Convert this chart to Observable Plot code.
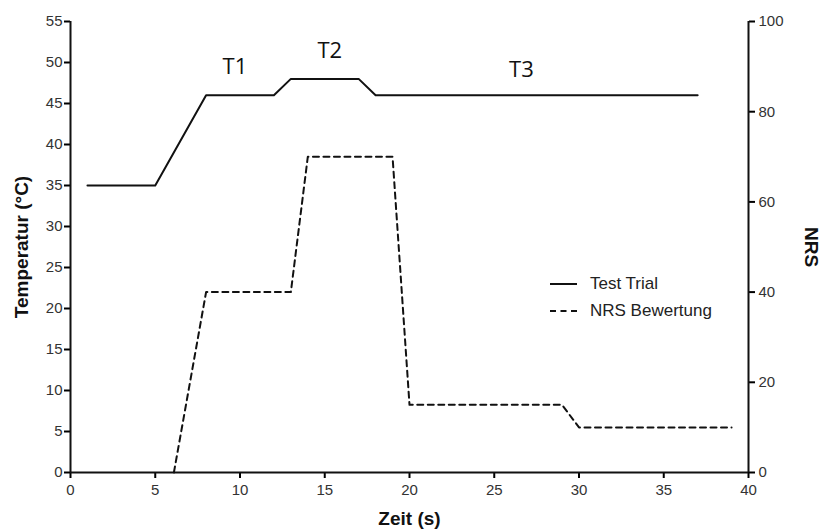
<!DOCTYPE html>
<html>
<head>
<meta charset="utf-8">
<script src="https://cdn.jsdelivr.net/npm/d3@7"></script>
<script src="https://cdn.jsdelivr.net/npm/@observablehq/plot@0.6"></script>
<style>
  body { margin: 0; background: #fff; }
  #wrap { position: relative; width: 822px; height: 530px; }
  #legend { position: absolute; left: 550px; top: 270px; font-family: "Liberation Sans", Arial, sans-serif; font-size: 17px; color: #222; }
  #legend .row { display: flex; align-items: center; height: 27px; }
  #legend svg { margin-right: 13px; }
</style>
</head>
<body>
<div id="wrap"></div>
<script>
// Data
const timeTemp = [1, 5, 8, 12, 13, 17, 18, 37];
const temp     = [35, 35, 46, 46, 48, 48, 46, 46];
const timeNrs  = [6.1, 8, 13, 14, 19, 20, 29, 30, 39];
const nrs      = [0, 40, 40, 70, 70, 15, 15, 10, 10];
const xTicks   = [0, 5, 10, 15, 20, 25, 30, 35, 40];
const yTicks   = [0, 5, 10, 15, 20, 25, 30, 35, 40, 45, 50, 55];
const nrsTicks = [0, 20, 40, 60, 80, 100];
const phaseLabels = ["T1", "T2", "T3"];
const phaseX = [9.7, 15.3, 26.6];
const phaseY = [49.4, 51.4, 49.1];

const tempMax = 55, nrsMax = 100;
const k = tempMax / nrsMax;

const tempData = timeTemp.map((t, i) => ({t, v: temp[i]}));
const nrsData = timeNrs.map((t, i) => ({t, v: nrs[i]}));
const phases = phaseLabels.map((s, i) => ({s, x: phaseX[i], y: phaseY[i]}));

const font = "Liberation Sans, Arial, sans-serif";

const chart = Plot.plot({
  width: 822,
  height: 530,
  marginLeft: 70,
  marginRight: 74,
  marginTop: 21,
  marginBottom: 58,
  style: {fontFamily: font, background: "#fff"},
  x: {domain: [0, 40]},
  y: {domain: [0, tempMax]},
  marks: [
    Plot.axisX({ticks: xTicks, tickSize: 6, tickPadding: 6, strokeWidth: 2, fontSize: 15, fill: "#333", label: null}),
    Plot.axisY({anchor: "left", ticks: yTicks, tickSize: 6, tickPadding: 2, strokeWidth: 2, fontSize: 15, fill: "#333", label: null}),
    Plot.axisY({anchor: "right", ticks: nrsTicks.map(v => v * k), tickFormat: d => Math.round(d / k), tickSize: 6, tickPadding: 4, strokeWidth: 2, fontSize: 15, fill: "#333", label: null}),
    Plot.ruleX([0, 40], {stroke: "#111", strokeWidth: 2}),
    Plot.ruleY([0], {stroke: "#111", strokeWidth: 2}),
    Plot.line(tempData, {x: "t", y: "v", stroke: "#111", strokeWidth: 2}),
    Plot.line(nrsData, {x: "t", y: d => d.v * k, stroke: "#111", strokeWidth: 2, strokeDasharray: "6,4.5"}),
    Plot.text(phases, {x: "x", y: "y", text: "s", fontSize: 22, fontFamily: "Open Sans, sans-serif", fill: "#111"}),
    Plot.text(["Zeit (s)"], {text: d => d, frameAnchor: "bottom", dy: 52, fontSize: 19, fontWeight: "bold", fill: "#111"}),
    Plot.text(["Temperatur (°C)"], {text: d => d, frameAnchor: "left", textAnchor: "middle", dx: -49, rotate: -90, fontSize: 19, fontWeight: "bold", fill: "#111"}),
    Plot.text(["NRS"], {text: d => d, frameAnchor: "right", textAnchor: "middle", dx: 63, rotate: 90, fontSize: 19, fontWeight: "bold", fill: "#111"})
  ]
});

const wrap = document.getElementById("wrap");
wrap.appendChild(chart);

const legend = document.createElement("div");
legend.id = "legend";
legend.innerHTML = `
  <div class="row"><svg width="27" height="4"><line x1="0" y1="2" x2="27" y2="2" stroke="#111" stroke-width="2"/></svg><span>Test Trial</span></div>
  <div class="row"><svg width="27" height="4"><line x1="0" y1="2" x2="27" y2="2" stroke="#111" stroke-width="2" stroke-dasharray="6,4.5"/></svg><span>NRS Bewertung</span></div>`;
wrap.appendChild(legend);
</script>
</body>
</html>
